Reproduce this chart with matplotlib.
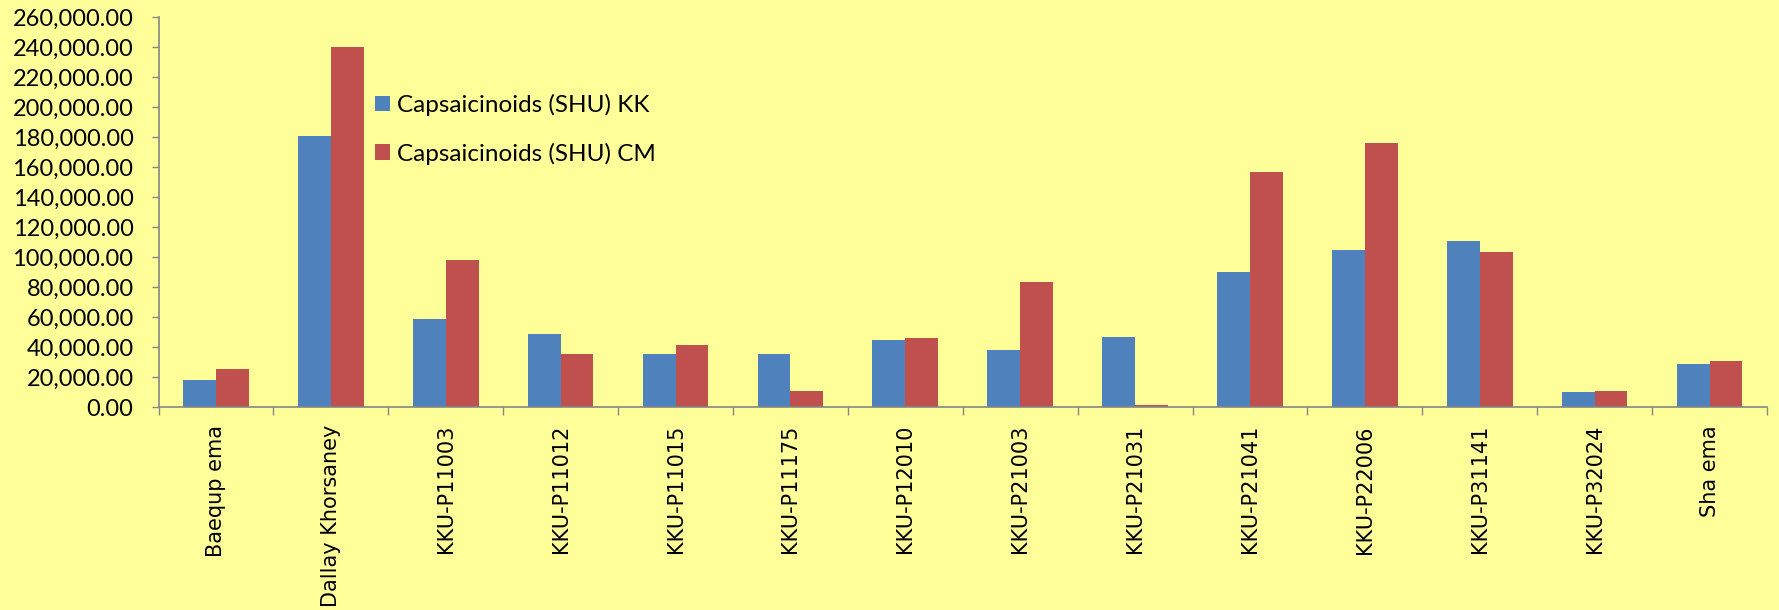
import matplotlib
matplotlib.use("Agg")
import matplotlib.pyplot as plt
from matplotlib.ticker import FuncFormatter, MultipleLocator, FixedLocator
import numpy as np

# Capsaicinoid content per chilli accession, two labs
accessions = [
    "Baequp ema", "Dallay Khorsaney", "KKU-P11003", "KKU-P11012",
    "KKU-P11015", "KKU-P11175", "KKU-P12010", "KKU-P21003",
    "KKU-P21031", "KKU-P21041", "KKU-P22006", "KKU-P31141",
    "KKU-P32024", "Sha ema",
]
shu_kk = [18300, 181000, 58400, 48700, 35100, 35100, 44500, 38000,
          46400, 90000, 104700, 110900, 10200, 28700]
shu_cm = [25200, 239800, 97800, 35300, 41300, 10700, 46000, 83100,
          1600, 156400, 175800, 103100, 10700, 30700]

BG = '#FFFF99'
BLUE = '#4F81BD'
RED = '#C0504D'
AXIS = '#868686'

fig = plt.figure(figsize=(17.79, 6.10), dpi=100, facecolor=BG)
ax = fig.add_axes([158.5 / 1779, 1 - 407 / 610, (1767 - 158.5) / 1779, (407 - 17) / 610])
ax.set_facecolor(BG)

x = np.arange(len(accessions))
w = 1 / 3.5
ax.bar(x - w / 2, shu_kk, width=w, color=BLUE, edgecolor='none',
       label='Capsaicinoids (SHU) KK', zorder=2)
ax.bar(x + w / 2, shu_cm, width=w, color=RED, edgecolor='none',
       label='Capsaicinoids (SHU) CM', zorder=2)

ax.set_xlim(-0.5, len(accessions) - 0.5)
ax.set_ylim(0, 260000)

# y axis
ax.yaxis.set_major_locator(MultipleLocator(20000))
ax.yaxis.set_major_formatter(FuncFormatter(lambda v, p: f"{v:,.2f}"))
ax.tick_params(axis='y', which='major', direction='out', length=5, width=1,
               color=AXIS, pad=13, labelsize=17)
for t in ax.get_yticklabels():
    t.set_fontfamily('Lato')

# x axis: tick marks between groups, labels centred under groups
ax.xaxis.set_major_locator(FixedLocator(np.arange(-0.5, len(accessions), 1.0)))
ax.xaxis.set_major_formatter(FuncFormatter(lambda v, p: ''))
ax.xaxis.set_minor_locator(FixedLocator(x))
ax.set_xticklabels(accessions, minor=True, rotation=90, fontsize=15,
                   fontfamily='DejaVu Sans', va='top', ha='center')
ax.tick_params(axis='x', which='major', direction='out', length=6, width=1, color=AXIS)
ax.tick_params(axis='x', which='minor', length=0, pad=13)

for side in ('top', 'right'):
    ax.spines[side].set_visible(False)
for side in ('left', 'bottom'):
    ax.spines[side].set_color(AXIS)
    ax.spines[side].set_linewidth(1.2)

leg = ax.legend(loc='upper left', bbox_to_anchor=(375 / 1779, 1 - 94 / 610),
                bbox_transform=fig.transFigure, frameon=False,
                handlelength=0.62, handleheight=0.62, handletextpad=0.29,
                labelspacing=1.1, borderpad=0, borderaxespad=0,
                prop={'family': 'Lato', 'size': 17.5})

fig.savefig('out.png', dpi=100, facecolor=BG)
